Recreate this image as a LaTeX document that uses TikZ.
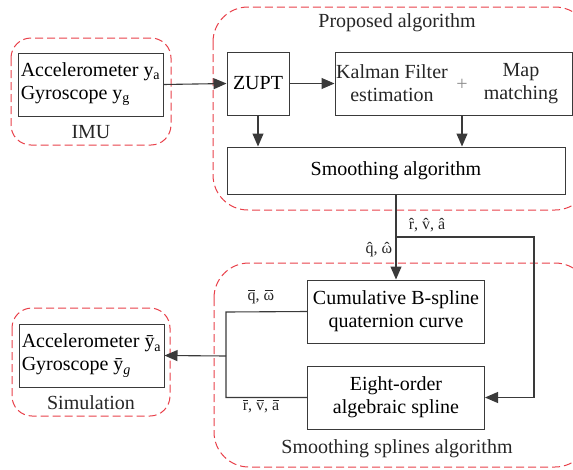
\documentclass[tikz,border=0pt]{standalone}
\usepackage{fontspec}
\setmainfont{Liberation Serif}
\usetikzlibrary{arrows.meta}
\definecolor{dashred}{HTML}{E8404A}
\definecolor{linegray}{HTML}{3A3A3A}
\newlength\accw
\newcommand\hatover[1]{\ooalign{#1\cr\hidewidth ˆ\hidewidth\cr}}
\newcommand\barover[1]{\settowidth\accw{#1}\ooalign{#1\cr\hfil\rule[0.62em]{0.85\accw}{0.05em}\hfil\cr}}
\begin{document}
\begin{tikzpicture}[x=1pt,y=-1pt,
  box/.style={draw=linegray,line width=1pt,inner sep=0pt,align=center,font=\fontsize{20}{23}\selectfont},
  txt/.style={inner sep=0pt,align=center,font=\fontsize{20}{23}\selectfont,text=black!85},
  lbl/.style={inner sep=0pt,font=\fontsize{16}{18}\selectfont,text=black!85},
  group/.style={draw=dashred,line width=1pt,dash pattern=on 8pt off 4pt,rounded corners=#1},
  conn/.style={draw=linegray,line width=1.1pt},
  arr/.style={conn,-{Triangle[length=13pt,width=11pt]}}]
\useasboundingbox (0,0) rectangle (573,469);
\begin{scope}
\clip (0,0) rectangle (573,469);
% groups
\draw[group=20pt] (11,38) rectangle (171,145);
\draw[group=20pt] (12,308) rectangle (170,416);
\draw[group=35pt] (213,7) rectangle (590,210);
\draw[group=35pt] (214,263) rectangle (590,467);
% group labels
\node[txt] (imulbl) at (91,132) {IMU};
\node[txt] (simlbl) at (91,403) {Simulation};
\node[txt] (proplbl) at (397,23) {Proposed algorithm};
\node[txt] (spllbl) at (397,449) {Smoothing splines algorithm};
% boxes
\node[box,align=left,minimum width=145pt,minimum height=63pt] (imu) at (90.5,84.5)
  {Accelerometer y\textsubscript{a}\\Gyroscope y\textsubscript{g}};
\node[box,minimum width=62pt,minimum height=63pt] (zupt) at (258,83.5) {ZUPT};
\node[box,minimum width=237pt,minimum height=63pt] (kal) at (453.5,83.5) {};
\node[txt] (kaltxt) at (392,83.5) {Kalman Filter\\estimation};
\node[txt,text=black!45] (plus) at (462,85) {+};
\node[txt] (maptxt) at (521,83.5) {Map\\matching};
\node[box,minimum width=338pt,minimum height=47pt] (smooth) at (396,170.5) {Smoothing algorithm};
\node[box,minimum width=177pt,minimum height=63pt] (cum) at (396,311.5) {Cumulative B-spline\\quaternion curve};
\node[box,minimum width=177pt,minimum height=63pt] (eight) at (396,397.5) {Eight-order\\algebraic spline};
\node[box,align=left,minimum width=145pt,minimum height=63pt] (sim) at (91.5,355.5)
  {Accelerometer \={y}\textsubscript{a}\\Gyroscope \={y}\textsubscript{\textit{g}}};
% connectors
\draw[arr] (imu.east) -- (zupt.west);
\draw[arr] (zupt.east) -- (kal.west);
\draw[arr] (zupt.south) -- (zupt.south |- smooth.north);
\draw[arr] (kal.south -| plus) -- (plus |- smooth.north);
\coordinate (br) at (396,237);
\coordinate (rt) at (534,237);
\draw[arr] (smooth.south) -- (cum.north);
\draw[arr] (br) -- (rt) |- (eight.east);
\coordinate (lt) at (226,312);
\coordinate (jn) at (226,356);
\draw[conn] (cum.west) -- (lt) |- (eight.west);
\draw[arr] (jn) -- (sim.east);
% labels
\node[lbl] (rhat) at (427,227) {\hatover{r}, \hatover{v}, \hatover{a}};
\node[lbl] (qhat) at (379,251) {\hatover{q}, \hatover{ω}};
\node[lbl] (qbar) at (261,298) {\barover{q}, \barover{ω}};
\node[lbl] (rbar) at (261,408) {\barover{r}, \barover{v}, \barover{a}};
\end{scope}
\end{tikzpicture}
\end{document}
